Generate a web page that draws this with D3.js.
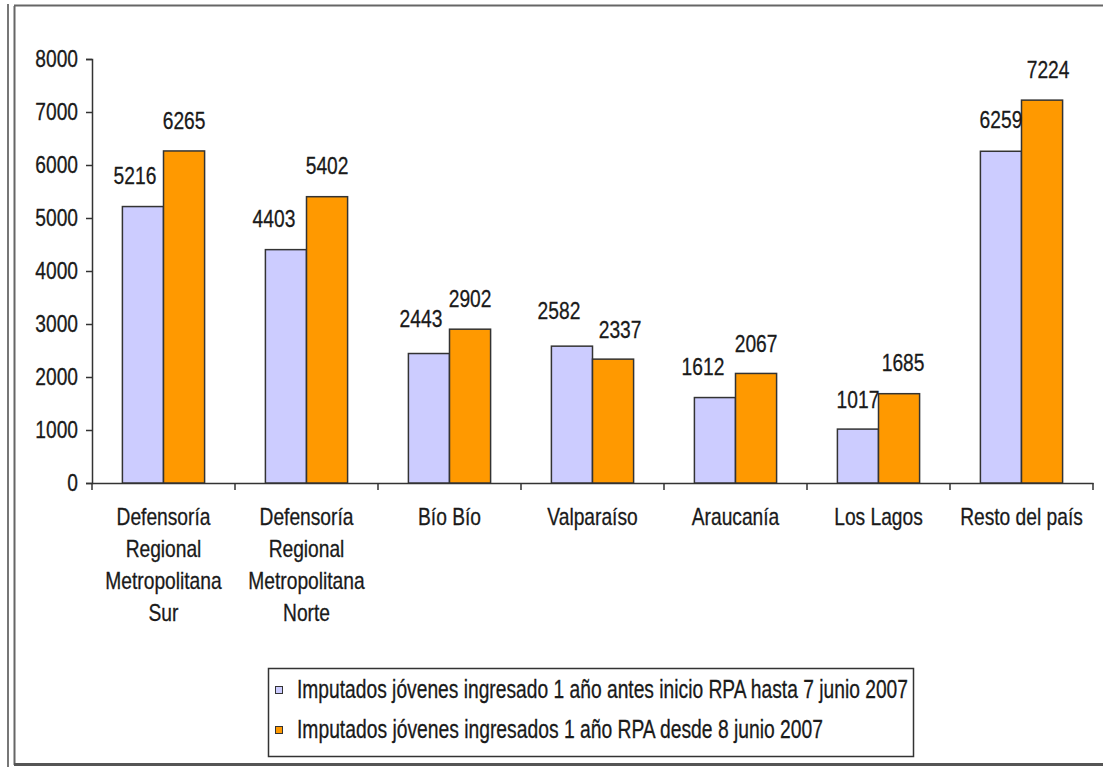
<!DOCTYPE html>
<html>
<head>
<meta charset="utf-8">
<script src="https://cdn.jsdelivr.net/npm/d3@7"></script>
<style>
  html, body { margin: 0; padding: 0; background: #fff; }
  svg text { font-family: "Liberation Sans", Arial, sans-serif; fill: #1a1a1a; stroke: #1a1a1a; stroke-width: 0.3px; }
</style>
</head>
<body>
<div id="chart"></div>
<script>
// categories (one entry per group, split into the lines shown under the axis)
const categories = ['DRM Sur', 'DRM Norte', 'Bío Bío', 'Valparaíso', 'Araucanía', 'Los Lagos', 'Resto del país'];
const categoryLines = [
  ['Defensoría', 'Regional', 'Metropolitana', 'Sur'],
  ['Defensoría', 'Regional', 'Metropolitana', 'Norte'],
  ['Bío Bío'],
  ['Valparaíso'],
  ['Araucanía'],
  ['Los Lagos'],
  ['Resto del país']
];
const seriesNames = [
  'Imputados jóvenes ingresado 1 año antes inicio RPA hasta 7 junio 2007',
  'Imputados jóvenes ingresados 1 año RPA desde 8 junio 2007'
];
const antes = [5216, 4403, 2443, 2582, 1612, 1017, 6259];
const desde = [6265, 5402, 2902, 2337, 2067, 1685, 7224];
const yTicks = [0, 1000, 2000, 3000, 4000, 5000, 6000, 7000, 8000];

const seriesColors = ['#ccccff', '#ff9900'];
const fontSize = 24;
const squeeze = 0.8; // the original text is horizontally narrowed

// hand placement of the value labels, as in the original (dx, dy in px per series)
const labelNudge = [
  [[-8, 0], [0, 1]],
  [[-12, 0], [0, 0]],
  [[-8, -4], [0, 1]],
  [[-13, -4], [7, 2]],
  [[-12, 0], [0, 2]],
  [[0, 2], [4, 0]],
  [[0, 0], [6, 1]]
];

const width = 1103, height = 767;
const svg = d3.select('#chart').append('svg')
  .attr('width', width)
  .attr('height', height);

// frame (cropped on the right)
const frame = svg.append('g').attr('fill', 'none');
frame.append('line').attr('x1', 8).attr('x2', 8).attr('y1', 4).attr('y2', 767).attr('stroke', '#777').attr('stroke-width', 2);
frame.append('line').attr('x1', 14.5).attr('x2', 14.5).attr('y1', 6).attr('y2', 765).attr('stroke', '#666').attr('stroke-width', 2);
frame.append('line').attr('x1', 14).attr('x2', width).attr('y1', 5.5).attr('y2', 5.5).attr('stroke', '#666').attr('stroke-width', 2);
frame.append('line').attr('x1', 14).attr('x2', width).attr('y1', 764.5).attr('y2', 764.5).attr('stroke', '#555').attr('stroke-width', 3);

// scales
const x0 = d3.scaleBand().domain(categories).range([92, 1093]).paddingInner(0).paddingOuter(0);
const x1 = d3.scaleBand().domain([0, 1]).range([0, x0.bandwidth()]).paddingInner(0).paddingOuter(0.74);
const y = d3.scaleLinear().domain([0, 8000]).range([483, 59]);

// y axis
const yAxis = svg.append('g')
  .attr('transform', 'translate(92,0)')
  .call(d3.axisLeft(y).tickValues(yTicks).tickFormat(d3.format('d')).tickSize(6).tickPadding(8));
yAxis.select('.domain').attr('stroke', '#333').attr('stroke-width', 1.5);
yAxis.selectAll('.tick line').attr('stroke', '#333').attr('stroke-width', 1.5);
yAxis.selectAll('.tick text')
  .attr('font-size', fontSize)
  .attr('font-family', '"Liberation Sans", Arial, sans-serif')
  .attr('fill', '#1a1a1a')
  .attr('x', -14 / squeeze)
  .attr('transform', `scale(${squeeze},1)`);

// x axis (ticks between groups)
const xAxis = svg.append('g')
  .attr('transform', 'translate(0,483)')
  .call(d3.axisBottom(x0).tickSize(0).tickFormat(''));
xAxis.select('.domain').attr('stroke', '#333').attr('stroke-width', 1.5);
const boundaries = categories.map(c => x0(c)).concat([x0.range()[1]]);
xAxis.selectAll('.sep').data(boundaries).enter().append('line')
  .attr('x1', d => d).attr('x2', d => d)
  .attr('y1', 0).attr('y2', 7)
  .attr('stroke', '#333').attr('stroke-width', 1.5);

// bars
const rows = categories.map((c, i) => ({ cat: c, i, vals: [antes[i], desde[i]] }));
const groups = svg.append('g').selectAll('g')
  .data(rows).enter().append('g')
  .attr('transform', d => `translate(${x0(d.cat)},0)`);

groups.selectAll('rect')
  .data(d => d.vals.map((v, s) => ({ v, s, i: d.i })))
  .enter().append('rect')
  .attr('x', d => x1(d.s))
  .attr('width', x1.bandwidth())
  .attr('y', d => y(d.v))
  .attr('height', d => y(0) - y(d.v))
  .attr('fill', d => seriesColors[d.s])
  .attr('stroke', '#333')
  .attr('stroke-width', 1.5);

// value labels
groups.selectAll('text.val')
  .data(d => d.vals.map((v, s) => ({ v, s, i: d.i })))
  .enter().append('text')
  .attr('class', 'val')
  .attr('text-anchor', 'middle')
  .attr('font-size', fontSize)
  .attr('transform', d => {
    const [dx, dy] = labelNudge[d.i][d.s];
    return `translate(${x1(d.s) + x1.bandwidth() / 2 + dx},${y(d.v) - 23 + dy}) scale(${squeeze},1)`;
  })
  .text(d => d.v);

// category labels
const catLabels = svg.append('g').selectAll('text')
  .data(categories).enter().append('text')
  .attr('text-anchor', 'middle')
  .attr('font-size', fontSize)
  .attr('transform', d => `translate(${x0(d) + x0.bandwidth() / 2},525) scale(${squeeze},1)`);
catLabels.selectAll('tspan')
  .data((d, i) => categoryLines[i])
  .enter().append('tspan')
  .attr('x', 0)
  .attr('y', (d, i) => i * 32)
  .text(d => d);

// legend
const legend = svg.append('g');
legend.append('rect')
  .attr('x', 268.5).attr('y', 668.5)
  .attr('width', 645).attr('height', 88)
  .attr('fill', '#fff').attr('stroke', '#333').attr('stroke-width', 1.5);
const legendBaseline = [698, 738];
const legendTextLen = [611, 526];
seriesNames.forEach((name, i) => {
  legend.append('rect')
    .attr('x', 275.5).attr('y', legendBaseline[i] - 11.5)
    .attr('width', 7).attr('height', 7)
    .attr('fill', seriesColors[i]).attr('stroke', '#333').attr('stroke-width', 1);
  legend.append('text')
    .attr('x', 297)
    .attr('y', legendBaseline[i])
    .attr('font-size', 25)
    .attr('textLength', legendTextLen[i])
    .attr('lengthAdjust', 'spacingAndGlyphs')
    .text(name);
});
</script>
</body>
</html>
